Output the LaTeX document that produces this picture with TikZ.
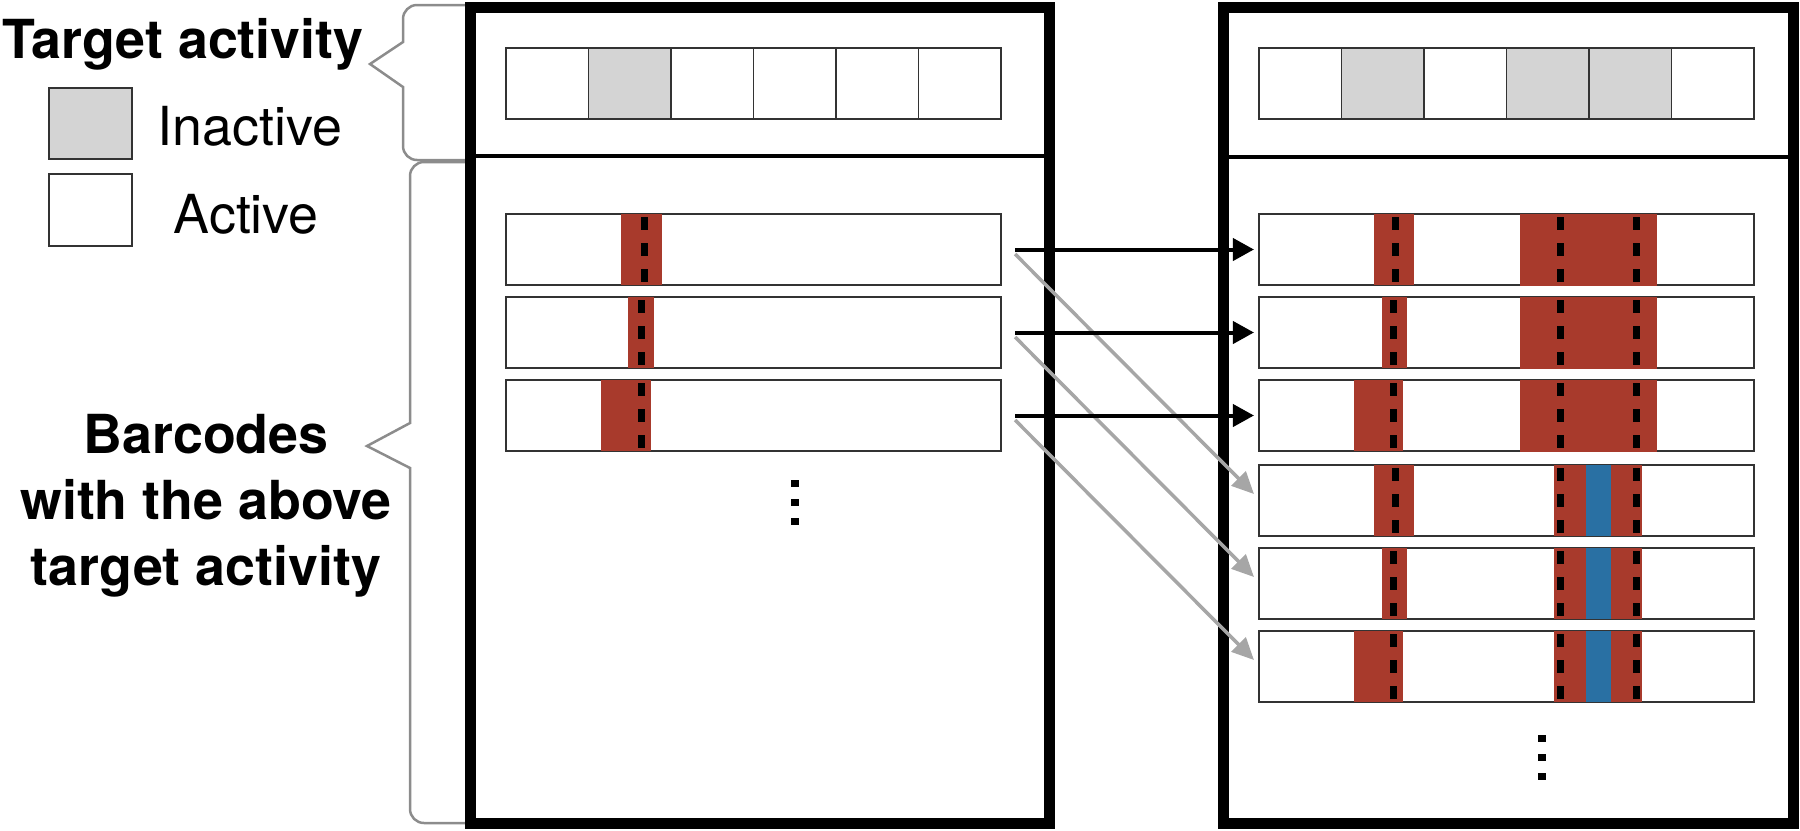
\documentclass[tikz,border=0pt]{standalone}
\usepackage{fontspec}
\setmainfont{TeX Gyre Heros}
\usetikzlibrary{arrows.meta}
\definecolor{hit}{RGB}{168,58,44}
\definecolor{miss}{RGB}{41,112,163}
\definecolor{off}{RGB}{212,212,212}
\definecolor{bracegray}{RGB}{140,140,140}
\definecolor{linkgray}{RGB}{166,166,166}
\tikzset{
  panel/.style={line width=0.11cm},
  split/.style={line width=0.045cm},
  outline/.style={draw=black!80, line width=0.018cm},
  bar/.style={outline, fill=white, minimum width=4.95cm, minimum height=0.71cm, inner sep=0pt},
  hitband/.style={fill=hit},
  missband/.style={fill=miss},
  cutline/.style={line width=0.07cm, dash pattern=on 0.13cm off 0.13cm},
  brace/.style={draw=bracegray, line width=0.025cm},
  lbl/.style={font=\fontsize{15.3}{18.8}\selectfont, inner sep=0pt},
  head/.style={font=\bfseries\fontsize{15.3}{18.8}\selectfont, inner sep=0pt},
  sure/.style={line width=0.04cm, -{Triangle[length=0.21cm,width=0.22cm]}},
  maybe/.style={draw=linkgray, line width=0.035cm, -{Triangle[length=0.22cm,width=0.2cm]}},
}
\begin{document}
\begin{tikzpicture}[x=0.01cm, y=-0.01cm]
\useasboundingbox (0,0) rectangle (1800,830);

% legend
\node[head, anchor=base] (tgt) at (183,58) {Target activity};
\draw[outline, fill=off] (49,88) rectangle (132,159);
\node[lbl, anchor=base west] (inact) at (157,145) {Inactive};
\draw[outline] (49,174) rectangle (132,246);
\node[lbl, anchor=base west] (act) at (173,233) {Active};
\node[head, align=center] (bcd) at (206,506) {Barcodes\\with the above\\target activity};

% braces
\draw[brace] (465,5) [rounded corners=0.14cm] -- (403,5) [sharp corners] -- (403,42) -- (370,64) -- (403,87) [rounded corners=0.14cm] -- (403,160) -- (465,160);
\draw[brace] (465,162) [rounded corners=0.14cm] -- (410,162) [sharp corners] -- (410,423) -- (367,446) -- (410,468) [rounded corners=0.14cm] -- (410,823) -- (465,823);

% panels
\draw[panel] (470,7) rectangle (1049,823);
\draw[split] (470,156) -- (1049,156);
\draw[panel] (1223,7) rectangle (1793,823);
\draw[split] (1223,157) -- (1793,157);

% target rows
\foreach \i in {0,...,5} {
  \draw[outline] (506+82.5*\i,48) rectangle ++(82.5,71);
  \draw[outline] (1259+82.5*\i,48) rectangle ++(82.5,71);
}
\foreach \x/\i in {506/1, 1259/1, 1259/3, 1259/4}
  \draw[outline, fill=off] (\x+82.5*\i,48) rectangle ++(82.5,71);

% barcodes
\foreach \n/\y in {1/214, 2/297, 3/380}
  \node[bar] (l\n) at (753.5,\y+35.5) {};
\foreach \n/\y in {1/214, 2/297, 3/380, 4/465, 5/548, 6/631}
  \node[bar] (r\n) at (1506.5,\y+35.5) {};

\foreach \y/\a/\b/\d in {214/621/662/644, 297/628/654/641, 380/601/651/641,
    214/1374/1414/1395, 297/1382/1407/1393, 380/1354/1403/1393,
    465/1374/1414/1395, 548/1382/1407/1393, 631/1354/1403/1393} {
  \fill[hitband] (\a,\y) rectangle (\b,\y+71);
  \draw[cutline] (\d,\y+3) -- (\d,\y+71);
}
\foreach \y in {214, 297, 380} {
  \fill[hitband] (1520,\y) rectangle (1657,\y+72);
  \draw[cutline] (1560,\y+3) -- (1560,\y+71);
  \draw[cutline] (1636,\y+3) -- (1636,\y+71);
}
\foreach \y in {465, 548, 631} {
  \fill[hitband] (1554,\y) rectangle (1642,\y+71);
  \fill[missband] (1586,\y) rectangle (1611,\y+71);
  \draw[cutline] (1560,\y+3) -- (1560,\y+71);
  \draw[cutline] (1636,\y+3) -- (1636,\y+71);
}

% more rows
\foreach \k in {0,1,2} {
  \fill (791,480+19*\k) rectangle ++(8,7);
  \fill (1538,735+19*\k) rectangle ++(8,7);
}

% links
\foreach \n/\m in {1/4, 2/5, 3/6}
  \draw[maybe] ([xshift=0.13cm,yshift=-0.045cm]l\n.east) -- ([xshift=-0.04cm,yshift=0.065cm]r\m.west);
\foreach \n in {1,2,3}
  \draw[sure] ([xshift=0.13cm]l\n.east) -- ([xshift=-0.04cm]r\n.west);
\end{tikzpicture}
\end{document}
